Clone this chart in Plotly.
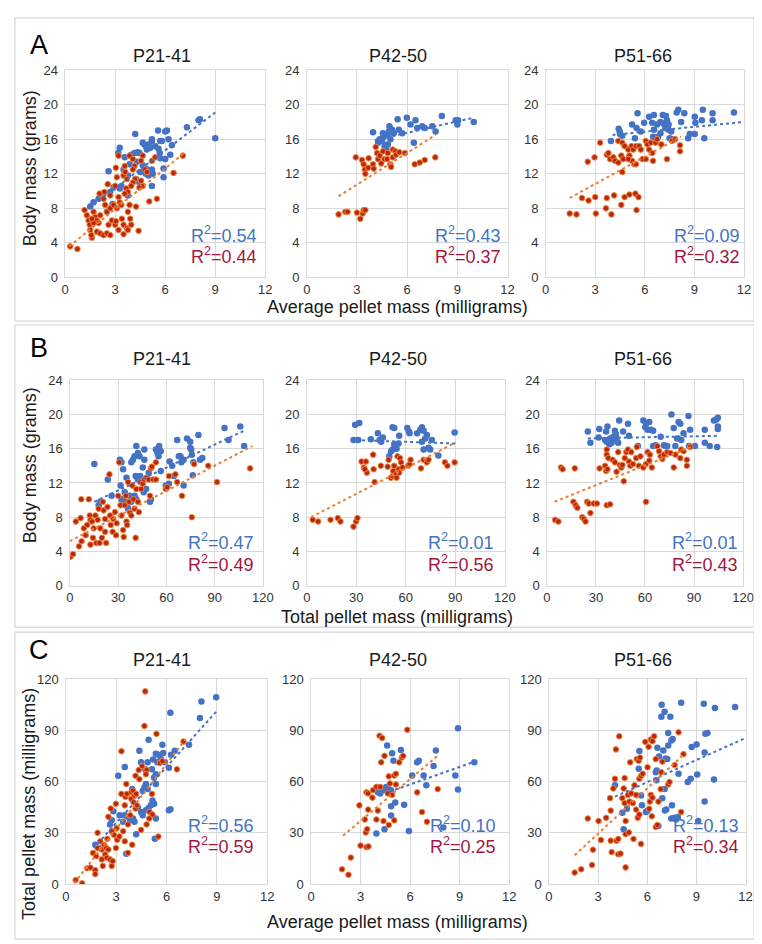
import plotly.graph_objects as go

# ---------------------------------------------------------------- data
# Row A: body mass (g) vs average pellet mass (mg)
A1_BLUE = [(8.08, 18.3), (8.0, 18.2), (9.0, 16.1), (7.3, 17.4), (6.1, 17.0), (6.0, 16.9), (5.57, 17.0),
           (4.2, 16.6), (6.2, 16.0), (6.4, 15.3), (5.7, 15.8), (5.2, 16.0), (4.65, 15.6), (4.84, 15.2),
           (5.0, 15.4), (5.2, 15.8), (5.4, 15.2), (4.9, 14.8), (4.75, 15.4), (5.1, 15.0), (5.6, 14.9),
           (5.8, 15.8), (5.67, 14.4), (5.7, 13.8), (6.3, 14.2), (6.0, 13.7), (3.27, 15.0), (3.18, 14.4),
           (3.96, 14.2), (4.16, 14.4), (4.35, 14.5), (4.45, 14.4), (3.86, 13.1), (4.3, 13.4), (3.57, 13.9),
           (2.6, 12.3), (4.65, 13.0), (4.84, 12.6), (4.5, 12.2), (5.2, 12.5), (5.25, 12.0), (5.0, 11.8),
           (4.84, 12.0), (5.9, 12.6), (5.9, 11.6), (5.2, 10.6), (3.5, 12.5), (3.57, 12.0), (3.76, 11.8),
           (3.37, 10.6), (3.27, 10.3), (2.9, 10.4), (3.76, 9.5), (2.7, 9.9), (2.3, 9.7), (2.0, 9.1),
           (1.7, 8.7), (1.5, 8.2), (2.84, 8.5), (2.5, 7.6), (4.25, 11.4), (4.45, 11.0)]
A1_RED = [(0.3, 3.6), (0.73, 3.3), (1.16, 7.8), (1.3, 7.2), (1.4, 6.6), (1.47, 6.1), (1.5, 5.5), (1.6, 4.6),
          (1.57, 4.9), (1.7, 7.6), (1.8, 7.0), (1.9, 6.6), (2.0, 6.3), (2.1, 7.2), (1.7, 6.3), (1.6, 6.8),
          (1.9, 5.3), (2.1, 5.1), (2.3, 4.9), (2.5, 5.1), (2.7, 4.9), (2.06, 9.7), (2.3, 9.1), (2.35, 9.9),
          (2.4, 8.4), (2.5, 7.6), (2.7, 8.0), (2.9, 8.4), (2.55, 10.8), (2.7, 9.5), (2.8, 6.6), (2.6, 6.1),
          (3.0, 6.1), (3.04, 6.5), (3.04, 12.7), (3.1, 11.6), (3.0, 10.6), (3.2, 9.3), (3.27, 8.7),
          (3.37, 8.4), (3.1, 8.0), (3.2, 14.1), (3.2, 5.5), (3.4, 6.8), (3.5, 6.1), (3.5, 5.0), (3.7, 5.7),
          (3.76, 5.5), (3.57, 12.9), (3.5, 11.8), (3.6, 12.2), (3.7, 11.4), (3.67, 10.3), (3.76, 9.9),
          (3.57, 9.7), (3.86, 8.4), (3.76, 7.6), (3.9, 6.8), (3.96, 6.1), (3.86, 14.1), (4.06, 13.7),
          (4.16, 12.9), (4.06, 12.5), (4.2, 11.4), (4.06, 11.0), (3.96, 10.6), (4.25, 8.2), (4.4, 5.4),
          (4.65, 14.1), (4.55, 13.5), (4.8, 12.5), (4.65, 10.6), (4.55, 11.2), (4.45, 10.4), (5.04, 8.8),
          (5.5, 9.1), (5.2, 13.5), (5.4, 13.9), (4.9, 12.2), (6.5, 12.1), (7.06, 14.1)]
A2_BLUE = [(3.96, 16.8), (4.26, 15.6), (4.36, 16.0), (4.55, 16.7), (4.6, 16.3), (4.5, 15.8), (4.84, 16.5),
           (4.94, 17.5), (4.9, 16.9), (5.0, 16.0), (4.84, 15.4), (4.75, 14.9), (4.65, 15.2), (5.1, 17.1),
           (5.2, 16.7), (5.43, 18.3), (5.5, 17.1), (5.7, 16.7), (5.98, 18.5), (6.2, 17.7), (6.5, 18.2),
           (6.6, 17.3), (6.4, 15.6), (6.9, 17.5), (7.05, 17.3), (7.5, 17.5), (7.7, 16.9), (8.07, 18.7),
           (8.9, 18.2), (9.0, 17.7), (9.04, 18.2), (9.98, 18.0)]
A2_RED = [(1.9, 7.3), (2.3, 7.6), (2.44, 7.6), (3.0, 7.5), (3.2, 6.8), (3.34, 7.4), (3.4, 7.8), (3.5, 7.8),
          (2.93, 13.9), (3.3, 13.6), (3.4, 13.1), (3.47, 12.5), (3.5, 12.0), (3.67, 12.7), (3.7, 13.8),
          (3.96, 13.1), (4.0, 12.6), (4.12, 15.1), (4.2, 14.4), (4.26, 13.7), (4.36, 14.1), (4.45, 13.2),
          (4.55, 14.6), (4.65, 13.7), (4.84, 14.4), (4.8, 13.7), (5.0, 13.1), (5.04, 12.8), (5.14, 14.8),
          (5.14, 13.9), (5.3, 14.6), (5.33, 14.2), (5.53, 14.5), (5.86, 14.4), (6.45, 13.1), (6.75, 13.3),
          (7.05, 13.6), (7.68, 13.9)]
A3_BLUE = [(3.95, 15.8), (4.42, 17.2), (4.48, 16.9), (4.64, 16.4), (4.5, 16.6), (5.23, 17.7), (5.5, 17.3),
           (5.4, 16.1), (5.56, 19.0), (5.76, 16.9), (5.96, 17.9), (6.26, 18.6), (6.55, 18.8), (6.45, 17.9),
           (6.55, 17.1), (6.5, 16.3), (6.65, 16.0), (6.8, 16.3), (6.95, 16.7), (6.75, 17.7), (6.95, 18.0),
           (7.09, 18.8), (7.28, 18.7), (7.14, 17.8), (7.34, 18.2), (7.44, 17.7), (7.44, 17.1), (7.6, 16.9),
           (7.5, 16.1), (7.7, 16.0), (7.24, 17.3), (7.93, 19.1), (8.03, 19.4), (8.39, 19.0), (8.2, 18.0),
           (8.62, 16.1), (8.72, 16.6), (9.02, 18.6), (9.06, 17.9), (9.02, 16.6), (9.45, 18.2), (9.51, 19.4),
           (9.6, 16.1), (10.1, 19.0), (10.1, 18.2), (11.39, 19.1)]
A3_RED = [(1.46, 7.4), (1.87, 7.3), (2.2, 9.2), (2.6, 8.9), (3.0, 9.3), (3.04, 7.4), (3.7, 9.2), (3.98, 7.3),
          (3.65, 8.0), (4.14, 9.5), (4.58, 8.4), (4.78, 9.3), (5.07, 9.6), (5.43, 9.7), (5.62, 9.3),
          (5.5, 7.8), (2.55, 13.4), (2.96, 13.9), (3.3, 15.6), (3.7, 14.2), (3.8, 14.4), (3.9, 13.7),
          (4.1, 13.9), (4.2, 13.5), (4.4, 13.3), (4.58, 14.1), (4.7, 13.7), (4.4, 15.8), (4.64, 15.6),
          (4.78, 15.2), (4.64, 12.2), (5.0, 14.8), (5.2, 15.2), (5.3, 14.8), (5.47, 15.2), (5.07, 14.1),
          (5.23, 13.5), (5.37, 13.1), (5.47, 13.1), (5.0, 13.7), (5.66, 15.2), (5.76, 14.8), (5.86, 13.7),
          (6.06, 13.7), (6.06, 15.8), (6.16, 15.4), (6.26, 14.8), (6.36, 15.6), (6.45, 14.4), (6.5, 13.5),
          (6.65, 15.6), (6.75, 16.0), (7.0, 15.4), (7.34, 13.7), (7.64, 15.8), (7.84, 16.0), (8.13, 15.3),
          (8.13, 14.6)]

# Row B: body mass (g) vs total pellet mass (mg)
B1_BLUE = [(15.2, 14.2), (17.9, 9.4), (18.9, 9.8), (23.6, 12.4), (26.0, 10.5), (31.1, 14.7), (32.1, 14.4),
           (33.1, 13.6), (31.5, 11.7), (34.1, 10.9), (32.1, 10.1), (34.1, 9.8), (35.2, 12.6), (35.6, 9.4),
           (36.2, 9.0), (37.2, 10.5), (38.2, 9.8), (38.2, 14.4), (39.2, 14.7), (40.2, 15.1), (41.3, 16.3),
           (42.3, 15.5), (43.3, 15.1), (40.9, 12.8), (42.3, 12.4), (43.7, 12.8), (40.2, 10.5), (39.2, 10.1),
           (41.3, 10.1), (45.3, 13.8), (46.3, 14.7), (46.3, 15.9), (45.9, 10.9), (47.4, 11.3), (49.0, 13.2),
           (50.4, 10.1), (49.8, 9.8), (53.5, 15.9), (54.5, 15.5), (55.1, 15.1), (55.5, 16.3), (56.5, 15.7),
           (56.5, 13.4), (59.6, 11.7), (61.6, 11.9), (62.0, 14.5), (63.6, 14.0), (64.6, 12.8), (66.7, 17.0),
           (67.7, 15.1), (68.7, 15.1), (69.3, 14.4), (70.7, 14.7), (70.7, 11.7), (72.8, 17.2), (74.8, 16.8),
           (74.8, 16.1), (75.4, 15.9), (75.8, 15.3), (76.8, 14.4), (76.4, 12.9), (79.9, 17.6), (80.9, 14.7),
           (82.3, 14.9), (96.1, 18.4), (98.6, 17.0), (105.9, 18.6), (108.3, 16.3)]
B1_RED = [(0.5, 3.4), (2.0, 3.7), (3.7, 7.5), (5.7, 4.6), (6.7, 7.9), (7.1, 10.1), (7.3, 5.2), (8.7, 6.7),
          (9.8, 5.9), (10.8, 7.1), (11.8, 10.1), (12.4, 8.2), (12.8, 7.7), (12.8, 4.8), (13.8, 7.5),
          (14.4, 5.6), (14.8, 6.7), (15.9, 8.2), (16.5, 5.0), (17.3, 7.7), (17.9, 9.0), (18.9, 6.7),
          (18.5, 5.0), (19.9, 5.6), (20.5, 9.8), (21.0, 8.8), (21.9, 7.8), (21.9, 6.3), (22.6, 5.0),
          (23.4, 9.2), (24.6, 13.0), (25.0, 8.2), (25.4, 7.1), (26.6, 6.3), (27.0, 7.8), (28.0, 8.6),
          (28.7, 5.9), (29.1, 7.3), (30.1, 10.5), (30.7, 14.4), (31.5, 9.4), (32.1, 8.2), (33.1, 6.5),
          (33.5, 5.7), (34.1, 9.4), (34.8, 10.5), (35.2, 7.5), (35.6, 7.1), (36.2, 12.1), (36.8, 9.8),
          (37.2, 8.6), (38.2, 8.2), (38.8, 11.7), (39.6, 10.1), (40.2, 9.0), (41.3, 11.3), (40.9, 5.6),
          (42.3, 9.8), (42.9, 8.6), (43.7, 12.1), (44.3, 11.3), (45.3, 11.9), (46.3, 12.4), (47.4, 12.6),
          (49.0, 12.4), (49.8, 10.5), (50.4, 13.7), (51.0, 13.9), (51.8, 12.4), (53.5, 12.4), (53.5, 14.4),
          (59.6, 11.3), (60.6, 11.5), (61.6, 12.8), (65.6, 13.0), (66.7, 12.1), (69.7, 10.5), (75.8, 8.0),
          (77.2, 14.2), (86.0, 14.0), (91.5, 12.1), (112.0, 13.7)]
B2_BLUE = [(29.3, 18.8), (31.8, 19.0), (28.3, 17.0), (31.2, 17.0), (38.8, 17.1), (43.1, 17.8), (44.1, 17.0),
           (46.1, 17.3), (45.1, 16.8), (50.0, 15.1), (51.1, 15.7), (52.0, 15.9), (53.0, 16.5), (52.0, 18.5),
           (53.0, 18.4), (54.4, 16.0), (55.6, 16.6), (56.0, 17.5), (60.9, 18.4), (61.9, 18.0), (62.3, 17.8),
           (66.9, 17.8), (68.8, 18.2), (69.8, 18.5), (70.8, 18.1), (69.8, 16.8), (70.8, 15.9), (71.8, 17.2),
           (72.8, 17.6), (73.8, 16.1), (74.8, 15.9), (75.8, 17.0), (79.7, 15.2), (89.6, 17.9)]
B2_RED = [(3.6, 7.7), (6.9, 7.5), (14.4, 7.7), (18.8, 7.9), (20.4, 7.5), (28.3, 6.9), (29.9, 7.5), (30.7, 7.9),
          (33.2, 14.5), (35.8, 14.5), (34.6, 13.8), (36.4, 13.2), (35.2, 13.6), (40.2, 15.3), (41.1, 12.1),
          (40.5, 13.6), (44.9, 14.0), (49.0, 13.9), (49.6, 14.7), (51.0, 12.6), (52.0, 12.8), (52.4, 13.4),
          (53.0, 14.0), (54.0, 13.0), (54.4, 12.6), (55.6, 13.6), (56.0, 13.2), (55.0, 15.1), (56.5, 14.9),
          (57.1, 14.4), (58.0, 13.8), (61.5, 14.0), (62.3, 14.2), (62.9, 14.7), (69.2, 13.7), (70.8, 14.7),
          (72.8, 14.4), (73.8, 14.7), (83.7, 14.4), (85.2, 14.0), (89.6, 14.4)]
B3_BLUE = [(25.0, 18.0), (26.6, 16.7), (32.0, 18.3), (31.6, 17.3), (36.2, 18.0), (37.0, 18.6), (35.6, 17.0),
           (36.6, 16.8), (38.6, 17.2), (38.2, 16.5), (39.6, 16.7), (40.6, 17.0), (41.6, 18.1), (42.2, 17.7),
           (42.6, 17.2), (40.6, 17.4), (43.6, 16.7), (44.2, 19.3), (46.6, 18.0), (49.6, 18.9), (50.2, 17.5),
           (55.6, 16.3), (59.0, 19.3), (60.6, 18.9), (60.2, 18.5), (61.6, 18.2), (62.6, 19.1), (63.6, 18.2),
           (65.0, 18.1), (65.0, 16.3), (66.6, 16.4), (69.6, 17.4), (71.6, 16.4), (72.6, 16.3), (73.6, 16.3),
           (76.2, 20.0), (77.6, 18.4), (78.6, 16.3), (79.6, 17.2), (80.6, 19.1), (81.6, 18.9), (82.2, 17.0),
           (83.6, 17.8), (86.6, 19.8), (87.6, 18.2), (87.0, 16.3), (90.6, 16.3), (96.6, 18.2), (96.6, 16.7),
           (99.6, 16.3), (102.2, 19.3), (103.6, 19.4), (104.6, 19.6), (104.6, 18.6), (104.6, 18.3),
           (104.2, 16.2)]
B3_RED = [(5.0, 7.7), (7.0, 7.5), (8.6, 13.8), (9.6, 13.6), (17.0, 13.7), (16.2, 9.8), (17.6, 9.4), (18.6, 9.1),
          (21.6, 8.0), (22.6, 7.8), (23.6, 7.5), (24.6, 9.8), (25.6, 9.6), (26.6, 8.5), (28.6, 9.6),
          (30.6, 9.6), (32.2, 13.7), (35.6, 14.0), (36.2, 13.4), (37.0, 13.6), (36.6, 9.4), (38.6, 9.5),
          (36.6, 15.9), (36.6, 15.3), (37.6, 14.9), (40.2, 14.7), (41.6, 14.4), (42.6, 13.3), (43.6, 15.6),
          (44.6, 14.1), (45.6, 13.8), (47.0, 12.2), (46.2, 14.1), (47.6, 14.9), (48.6, 15.6), (49.6, 15.9),
          (50.2, 14.5), (51.0, 14.0), (51.6, 15.6), (52.6, 14.2), (54.6, 14.9), (55.0, 16.2), (56.2, 14.0),
          (57.2, 15.1), (59.0, 13.8), (60.6, 14.2), (61.6, 15.6), (62.6, 14.6), (63.0, 15.3), (60.6, 9.8),
          (64.2, 13.8), (67.6, 16.3), (68.6, 15.7), (69.6, 15.1), (70.6, 14.8), (71.6, 15.3), (73.6, 15.6),
          (75.6, 15.5), (77.6, 13.8), (78.6, 15.3), (81.6, 14.9), (82.2, 15.9), (83.6, 15.7), (85.6, 14.7),
          (85.6, 14.0), (87.6, 16.2)]

# Row C: total pellet mass (mg) vs average pellet mass (mg)
C1_BLUE = [(8.96, 109.4), (8.08, 106.9), (7.99, 97.3), (7.34, 81.6), (6.23, 100.3), (6.49, 78.1), (6.27, 75.8),
           (5.75, 81.6), (5.8, 76.8), (5.66, 73.3), (5.51, 75.8), (5.36, 76.4), (5.45, 71.4), (5.2, 73.0),
           (5.13, 67.2), (5.9, 71.4), (6.14, 68.2), (4.93, 84.5), (4.38, 78.1), (4.48, 71.4), (4.73, 67.2),
           (4.87, 71.4), (5.36, 64.3), (5.26, 62.4), (5.36, 58.6), (4.77, 58.6), (4.68, 56.6), (4.58, 54.7),
           (4.87, 55.7), (3.51, 68.5), (3.12, 63.4), (3.95, 55.7), (5.16, 49.0), (5.26, 47.0), (5.06, 46.1),
           (4.93, 44.5), (4.77, 43.2), (4.29, 44.9), (4.48, 42.2), (4.58, 40.3), (5.36, 38.4), (5.3, 26.5),
           (6.23, 43.8), (6.14, 43.2), (4.19, 29.2), (3.51, 40.3), (3.7, 39.4), (3.84, 37.4), (3.6, 17.7),
           (2.82, 42.6), (2.73, 37.4), (2.63, 34.9), (3.21, 40.3), (3.41, 36.5), (1.75, 23.0), (1.95, 21.1),
           (4.0, 38.4), (4.09, 36.5)]
C1_RED = [(0.58, 2.3), (0.97, 0.4), (1.27, 9.2), (1.46, 9.6), (1.75, 8.1), (1.75, 5.8), (1.62, 18.2),
          (1.81, 16.3), (1.89, 21.1), (1.89, 30.0), (2.05, 25.0), (2.14, 20.2), (2.14, 14.4), (2.28, 23.0),
          (2.34, 17.3), (2.4, 21.1), (2.47, 26.5), (2.53, 20.2), (2.2, 10.6), (2.44, 15.4), (2.63, 14.4),
          (2.73, 10.6), (2.79, 13.4), (2.53, 39.4), (2.67, 44.2), (2.73, 30.9), (2.86, 28.8), (2.98, 47.0),
          (2.98, 21.1), (3.06, 25.9), (3.02, 32.6), (3.18, 27.8), (3.31, 77.8), (3.31, 52.8), (3.41, 30.9),
          (3.51, 46.1), (3.51, 25.0), (3.6, 58.6), (3.55, 51.1), (3.64, 52.8), (3.7, 34.9), (3.84, 40.3),
          (3.9, 53.8), (3.9, 49.9), (4.0, 54.7), (4.09, 51.8), (4.03, 47.9), (4.15, 44.2), (4.23, 46.1),
          (4.19, 52.8), (3.95, 23.0), (3.7, 18.2), (4.15, 63.4), (4.38, 61.4), (4.34, 66.8), (4.54, 69.1),
          (4.48, 31.7), (4.68, 92.6), (4.73, 112.9), (4.81, 66.8), (4.77, 64.3), (4.99, 42.2), (5.16, 40.7),
          (5.13, 52.8), (5.4, 88.0), (5.51, 27.8), (5.6, 71.0), (5.75, 72.0), (6.62, 67.2), (4.81, 34.9),
          (4.97, 38.4), (7.01, 83.5)]
C2_BLUE = [(8.9, 91.3), (9.89, 71.3), (7.56, 78.3), (7.42, 69.2), (6.53, 72.2), (6.43, 71.3), (6.82, 63.6),
           (6.98, 57.9), (6.13, 63.6), (4.91, 76.6), (5.44, 78.5), (4.99, 72.2), (4.61, 81.2), (4.55, 56.9),
           (4.65, 56.0), (4.35, 55.0), (4.19, 53.1), (4.85, 55.0), (4.05, 53.7), (5.1, 47.8), (5.64, 46.4),
           (4.85, 45.5), (4.85, 40.1), (4.45, 32.1), (3.96, 29.6), (5.93, 31.1), (8.74, 63.6), (8.9, 55.4),
           (8.01, 33.1)]
C2_RED = [(1.88, 8.6), (2.27, 5.4), (2.41, 15.5), (2.93, 46.1), (3.0, 22.5), (3.26, 37.8), (3.32, 30.2),
          (3.4, 32.1), (3.36, 21.6), (3.48, 22.0), (3.36, 53.7), (3.46, 53.1), (3.46, 43.6), (3.76, 55.0),
          (3.72, 50.6), (3.96, 56.9), (3.96, 37.8), (4.05, 43.0), (4.15, 86.9), (4.31, 85.6), (4.19, 56.9),
          (4.25, 71.3), (4.45, 75.1), (4.39, 36.9), (4.65, 53.1), (4.71, 63.1), (4.71, 34.6), (4.78, 58.9),
          (4.91, 52.2), (5.04, 63.6), (5.14, 64.6), (5.14, 58.3), (5.04, 37.3), (5.34, 71.3), (5.5, 74.1),
          (5.58, 75.1), (5.83, 90.4), (6.43, 53.7), (6.72, 42.2), (7.02, 36.5), (7.67, 55.6)]
C3_BLUE = [(6.88, 105.1), (7.06, 100.9), (6.86, 98.0), (7.41, 98.0), (8.07, 106.2), (9.45, 105.7),
           (10.13, 103.2), (11.36, 103.8), (7.28, 88.5), (7.55, 85.0), (7.47, 84.1), (7.28, 81.2),
           (6.98, 78.3), (6.62, 79.9), (8.71, 80.3), (9.01, 81.8), (9.67, 88.5), (9.55, 88.1), (9.5, 77.0),
           (6.72, 74.7), (7.12, 73.6), (7.22, 73.2), (6.58, 66.5), (6.52, 65.5), (5.52, 78.0), (5.48, 67.5),
           (7.91, 64.6), (9.05, 64.2), (8.47, 59.8), (8.65, 61.7), (10.07, 61.2), (4.03, 57.9), (7.06, 55.6),
           (6.92, 50.3), (6.56, 60.8), (7.08, 43.0), (7.16, 43.6), (7.51, 46.1), (5.62, 51.8), (5.68, 46.1),
           (4.48, 41.7), (4.56, 32.1), (4.76, 44.1), (5.92, 42.2), (6.02, 43.0), (7.47, 38.4), (7.67, 38.8),
           (7.87, 39.2), (7.75, 37.8), (6.68, 34.0), (9.5, 48.3), (9.11, 36.9)]
C3_RED = [(1.57, 6.7), (1.97, 8.6), (2.63, 11.1), (2.37, 38.4), (2.69, 20.1), (3.03, 36.9), (3.17, 25.8),
          (3.49, 38.8), (3.73, 50.3), (3.77, 43.0), (3.77, 25.4), (3.83, 18.7), (3.93, 56.0), (4.03, 61.7),
          (4.09, 78.9), (4.13, 25.4), (4.23, 26.4), (4.23, 17.4), (4.37, 17.8), (4.29, 86.6), (4.48, 50.3),
          (4.56, 56.0), (4.62, 62.1), (4.62, 47.4), (4.68, 36.9), (4.68, 29.2), (4.68, 9.7), (4.88, 30.2),
          (4.82, 52.2), (4.92, 48.3), (5.02, 53.1), (4.96, 71.3), (5.12, 47.4), (5.16, 26.4), (5.22, 57.9),
          (5.32, 52.2), (5.32, 43.6), (5.36, 73.2), (5.48, 72.2), (5.56, 74.1), (5.42, 38.8), (5.52, 40.7),
          (5.62, 23.5), (5.52, 61.7), (5.62, 63.3), (5.72, 64.6), (5.88, 83.3), (6.02, 68.4), (6.08, 80.4),
          (6.22, 84.7), (6.32, 83.7), (6.42, 86.6), (6.52, 73.2), (6.16, 48.3), (6.22, 52.2), (6.32, 50.6),
          (6.12, 44.1), (6.28, 39.7), (6.52, 33.4), (6.62, 34.6), (6.68, 48.3), (6.82, 55.6), (6.92, 71.7),
          (6.86, 65.5), (7.28, 58.3), (7.36, 59.8), (7.67, 69.7), (7.91, 88.9), (8.21, 76.1), (8.07, 42.2)]

# trendline end points: ((x0, y0), (x1, y1))
TREND_BLUE = {
    "A1": ((1.4, 8.0), (9.0, 19.1)), "A2": ((4.06, 15.9), (10.0, 18.5)), "A3": ((4.05, 16.5), (12.0, 18.0)),
    "B1": ((15.2, 9.8), (108.3, 18.1)), "B2": ((29.9, 17.0), (90.0, 16.6)), "B3": ((25.0, 17.2), (105.6, 17.5)),
    "C1": ((1.66, 21.1), (8.96, 101.0)), "C2": ((4.75, 54.1), (9.89, 71.7)), "C3": ((4.03, 51.2), (12.0, 85.6)),
}
TREND_RED = {
    "A1": ((0.24, 3.6), (7.2, 14.5)), "A2": ((1.9, 9.4), (7.7, 16.5)), "A3": ((1.46, 9.2), (8.2, 16.3)),
    "B1": ((0.0, 5.2), (113.4, 16.3)), "B2": ((2.6, 8.0), (90.0, 16.7)), "B3": ((4.6, 9.8), (88.2, 16.2)),
    "C1": ((0.49, 0.4), (7.11, 84.5)), "C2": ((1.94, 28.3), (7.71, 75.5)), "C3": ((1.57, 16.8), (8.31, 76.6)),
}
R2_BLUE = {"A1": "0.54", "A2": "0.43", "A3": "0.09", "B1": "0.47", "B2": "0.01", "B3": "0.01",
           "C1": "0.56", "C2": "0.10", "C3": "0.13"}
R2_RED = {"A1": "0.44", "A2": "0.37", "A3": "0.32", "B1": "0.49", "B2": "0.56", "B3": "0.43",
          "C1": "0.59", "C2": "0.25", "C3": "0.34"}

PANEL_TITLES = ["P21-41", "P42-50", "P51-66"]
ROW_LETTERS = ["A", "B", "C"]
Y_TITLES = ["Body mass (grams)", "Body mass (grams)", "Total pellet mass (milligrams)"]
X_TITLES = ["Average pellet mass (milligrams)", "Total pellet mass (milligrams)",
            "Average pellet mass (milligrams)"]
X_RANGES = [(0, 12, 3), (0, 120, 30), (0, 12, 3)]
Y_RANGES = [(0, 24, 4), (0, 24, 4), (0, 120, 30)]

SERIES = {
    "A1": (A1_BLUE, A1_RED), "A2": (A2_BLUE, A2_RED), "A3": (A3_BLUE, A3_RED),
    "B1": (B1_BLUE, B1_RED), "B2": (B2_BLUE, B2_RED), "B3": (B3_BLUE, B3_RED),
    "C1": (C1_BLUE, C1_RED), "C2": (C2_BLUE, C2_RED), "C3": (C3_BLUE, C3_RED),
}

# ---------------------------------------------------------------- layout (pixels)
W, H = 762, 944
ROW_Y = [(56, 266.7), (371, 580), (675, 883)]          # top, bottom of plot area
COL_X = [[(54.3, 258.3), (300.7, 505.5), (544.3, 746.7)],
         [(59, 256), (300.7, 502.7), (545.7, 745.7)],
         [(55, 260.3), (305, 507.2), (547.7, 748.3)]]
TITLE_X = [153, 394, 644]
TITLE_Y = [42, 350, 655]
LETTER_Y = [30, 338, 645]
YTITLE_Y = [156, 458, 802]
XTITLE_Y = [297, 612, 922]
BOXES = [(3, 311), (315, 622), (627, 939)]
R2_RIGHT = [[252, 501, 745], [249, 494, 743], [249, 496, 744]]
R2_Y = [(223, 244), (535, 557), (823, 844)]

BLUE = "#4472C4"
ORANGE = "#ED7D31"
RED_FILL = "#B8280E"
RED_TEXT = "#A3173F"
GRID = "#D9D9D9"
FONT = "Liberation Sans, Arial, sans-serif"


def px(x):
    return x / W


def py(y):
    return 1 - y / H


fig = go.Figure()
annotations = []
shapes = []
layout_axes = {}

n = 0
for r in range(3):
    for c in range(3):
        n += 1
        key = f"{ROW_LETTERS[r]}{c + 1}"
        xa = "x" if n == 1 else f"x{n}"
        ya = "y" if n == 1 else f"y{n}"
        blue, red = SERIES[key]

        fig.add_trace(go.Scatter(
            x=[p[0] for p in blue], y=[p[1] for p in blue], mode="markers",
            marker=dict(color=BLUE, size=6.5, line=dict(width=0)),
            xaxis=xa, yaxis=ya, showlegend=False, cliponaxis=True,
        ))
        fig.add_trace(go.Scatter(
            x=[p[0] for p in red], y=[p[1] for p in red], mode="markers",
            marker=dict(color=RED_FILL, size=5.6, line=dict(color="#F0843C", width=1)),
            xaxis=xa, yaxis=ya, showlegend=False, cliponaxis=True,
        ))
        for tr, col in ((TREND_BLUE[key], BLUE), (TREND_RED[key], ORANGE)):
            fig.add_trace(go.Scatter(
                x=[tr[0][0], tr[1][0]], y=[tr[0][1], tr[1][1]], mode="lines",
                line=dict(color=col, width=2, dash="dot"),
                xaxis=xa, yaxis=ya, showlegend=False,
            ))

        x0, x1, xd = X_RANGES[r]
        y0, y1, yd = Y_RANGES[r]
        left, right = COL_X[r][c]
        top, bottom = ROW_Y[r]
        axis_common = dict(showgrid=True, gridcolor=GRID, gridwidth=1, zeroline=False,
                           showline=True, linecolor=GRID, linewidth=1, mirror=True,
                           ticks="", tickfont=dict(size=13, color="#333333", family=FONT))
        layout_axes["xaxis" if n == 1 else f"xaxis{n}"] = dict(
            axis_common, domain=[px(left), px(right)], range=[x0, x1], dtick=xd, tick0=0,
            anchor=ya, fixedrange=True)
        layout_axes["yaxis" if n == 1 else f"yaxis{n}"] = dict(
            axis_common, domain=[py(bottom), py(top)], range=[y0, y1], dtick=yd, tick0=0,
            anchor=xa, fixedrange=True, ticksuffix=" ")

        # panel title
        annotations.append(dict(x=px(TITLE_X[c]), y=py(TITLE_Y[r]), xref="paper", yref="paper",
                                text=PANEL_TITLES[c], showarrow=False, xanchor="center", yanchor="middle",
                                font=dict(size=18, color="#1a1a1a", family=FONT)))
        # R squared labels
        annotations.append(dict(x=px(R2_RIGHT[r][c]), y=py(R2_Y[r][0]), xref="paper", yref="paper",
                                text=f"R<sup>2</sup>=" + R2_BLUE[key], showarrow=False,
                                xanchor="right", yanchor="middle",
                                font=dict(size=18, color=BLUE, family=FONT)))
        annotations.append(dict(x=px(R2_RIGHT[r][c]), y=py(R2_Y[r][1]), xref="paper", yref="paper",
                                text=f"R<sup>2</sup>=" + R2_RED[key], showarrow=False,
                                xanchor="right", yanchor="middle",
                                font=dict(size=18, color=RED_TEXT, family=FONT)))

    # row letter, axis titles, frame
    annotations.append(dict(x=px(28), y=py(LETTER_Y[r]), xref="paper", yref="paper",
                            text=ROW_LETTERS[r], showarrow=False, xanchor="center", yanchor="middle",
                            font=dict(size=27, color="#000000", family=FONT)))
    annotations.append(dict(x=px(18), y=py(YTITLE_Y[r]), xref="paper", yref="paper",
                            text=Y_TITLES[r], showarrow=False, textangle=-90,
                            xanchor="center", yanchor="middle",
                            font=dict(size=18, color="#1a1a1a", family=FONT)))
    annotations.append(dict(x=px(393), y=py(XTITLE_Y[r]), xref="paper", yref="paper",
                            text=X_TITLES[r], showarrow=False, xanchor="center", yanchor="middle",
                            font=dict(size=18, color="#1a1a1a", family=FONT)))
    shapes.append(dict(type="rect", xref="paper", yref="paper",
                       x0=px(3), x1=px(757), y0=py(BOXES[r][1]), y1=py(BOXES[r][0]),
                       line=dict(color="#D6D6D6", width=1.2), fillcolor="rgba(0,0,0,0)"))

fig.update_layout(
    width=W, height=H,
    margin=dict(l=0, r=0, t=0, b=0),
    paper_bgcolor="white", plot_bgcolor="white",
    font=dict(family=FONT),
    annotations=annotations, shapes=shapes,
    **layout_axes,
)

fig.write_html("out.html")
